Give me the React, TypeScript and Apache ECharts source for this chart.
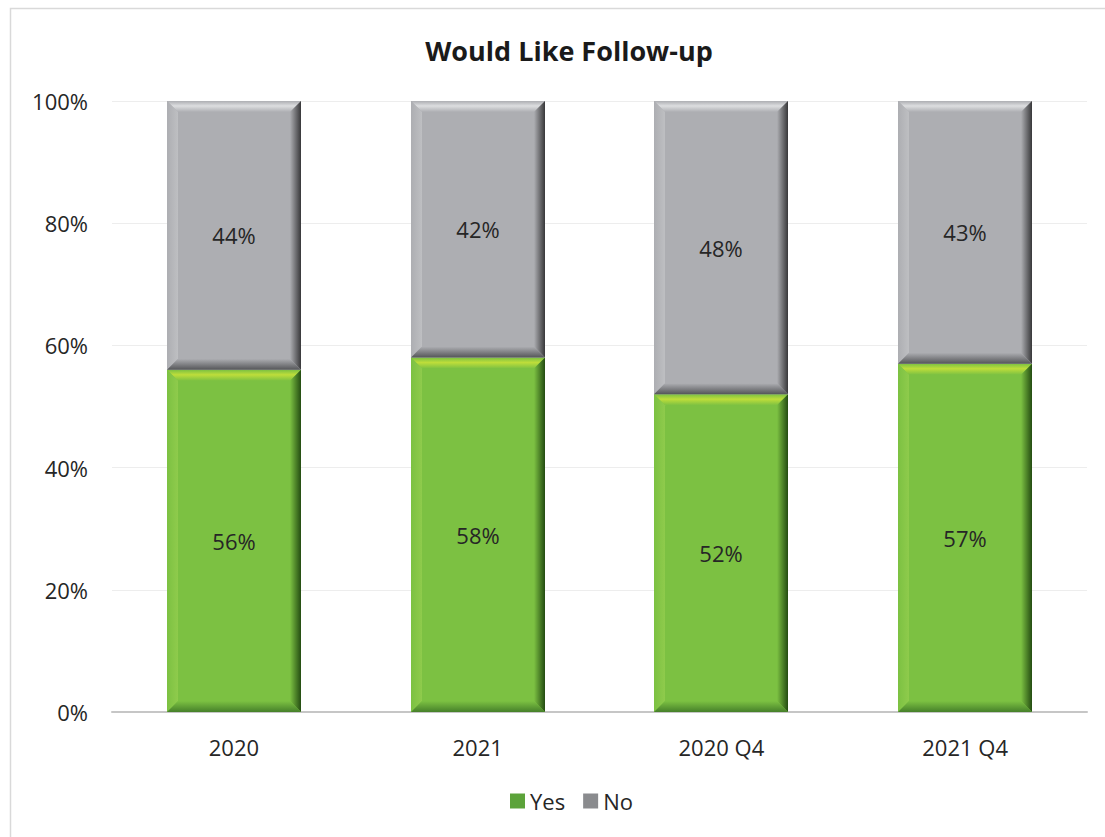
import React, { useEffect, useRef } from "react";
import * as echarts from "echarts";

const categories = ["2020", "2021", "2020 Q4", "2021 Q4"];
const yesValues = [56, 58, 52, 57];
const noValues = [44, 42, 48, 43];
const yTicks = [0, 20, 40, 60, 80, 100];

const FONT = "'Open Sans', 'Noto Sans', sans-serif";

type Pal = { face: string; topLight: string; left: string; right: string; bottom: string };
const greenPal: Pal = { face: "#7CC142", topLight: "#BEDD3A", left: "#8FCB4C", right: "#244C12", bottom: "#46802A" };
const grayPal: Pal = { face: "#ADAEB2", topLight: "#DDDEE0", left: "#BEBFC2", right: "#38383A", bottom: "#545558" };

function makeRender(pal: Pal, stackBase: number[]) {
  return (params: any, api: any) => {
    const idx = api.value(0);
    const val = api.value(1);
    const base = stackBase[idx] || 0;
    const top = api.coord([idx, base + val]);
    const bot = api.coord([idx, base]);
    const w = api.size([1, 0])[0] * 0.55;
    const x0 = Math.round(top[0] - w / 2);
    const x1 = Math.round(top[0] + w / 2);
    const y0 = top[1];
    const y1 = bot[1];
    const b = 11;
    const poly = (pts: number[][], fill: any) => ({ type: "polygon", shape: { points: pts }, style: { fill }, silent: true });
    return {
      type: "group",
      children: [
        { type: "rect", shape: { x: x0, y: y0, width: x1 - x0, height: y1 - y0 }, style: { fill: pal.face } },
        poly([[x0, y0], [x1, y0], [x1 - b, y0 + b], [x0 + b, y0 + b]],
          new echarts.graphic.LinearGradient(0, 0, 0, 1, [{ offset: 0, color: pal.face }, { offset: 0.45, color: pal.topLight }, { offset: 1, color: pal.face }])),
        poly([[x0, y0], [x0 + b, y0 + b], [x0 + b, y1 - b], [x0, y1]],
          new echarts.graphic.LinearGradient(0, 0, 1, 0, [{ offset: 0, color: pal.face }, { offset: 1, color: pal.left }])),
        poly([[x1, y0], [x1 - b, y0 + b], [x1 - b, y1 - b], [x1, y1]],
          new echarts.graphic.LinearGradient(0, 0, 1, 0, [{ offset: 0, color: pal.face }, { offset: 1, color: pal.right }])),
        poly([[x0, y1], [x1, y1], [x1 - b, y1 - b], [x0 + b, y1 - b]],
          new echarts.graphic.LinearGradient(0, 0, 0, 1, [{ offset: 0, color: pal.face }, { offset: 1, color: pal.bottom }])),
        {
          type: "text",
          style: {
            text: val + "%",
            x: (x0 + x1) / 2,
            y: (y0 + y1) / 2,
            align: "center",
            verticalAlign: "middle",
            fill: "#262626",
            font: `22px ${FONT}`,
          },
        },
      ],
    };
  };
}

export default function App() {
  const ref = useRef<HTMLDivElement>(null);
  useEffect(() => {
    document.body.style.margin = "0";
    const chart = echarts.init(ref.current!, null, { renderer: "svg" });
    const zeros = categories.map(() => 0);
    chart.setOption({
      animation: false,
      backgroundColor: "#ffffff",
      title: {
        text: "Would Like Follow-up",
        left: 564,
        top: 32,
        textAlign: "center",
        textStyle: { fontFamily: FONT, fontSize: 27, fontWeight: "bold", color: "#1a1a1a" },
      },
      graphic: [
        { type: "rect", shape: { x: 10.5, y: 8.5, width: 1200, height: 900 }, style: { fill: "none", stroke: "#D9D9D9", lineWidth: 1.5 }, silent: true },
      ],
      grid: { left: 112, right: 18, top: 101, bottom: 125 },
      legend: {
        bottom: 20,
        left: 505,
        orient: "horizontal",
        itemWidth: 15,
        itemHeight: 15,
        itemGap: 18,
        itemTextGap: 4,
        icon: "rect",
        textStyle: { fontFamily: FONT, fontSize: 22, color: "#262626" },
        data: [
          { name: "Yes", itemStyle: { color: "#5CA33A" } },
          { name: "No", itemStyle: { color: "#8A8B8E" } },
        ],
      },
      xAxis: {
        type: "category",
        data: categories,
        axisLine: { lineStyle: { color: "#C6C6C6", width: 2 } },
        axisTick: { show: false },
        axisLabel: { fontFamily: FONT, fontSize: 22, color: "#262626", margin: 24 },
      },
      yAxis: {
        type: "value",
        min: 0,
        max: 100,
        interval: 20,
        axisLine: { show: false },
        axisTick: { show: false },
        splitLine: { lineStyle: { color: "#EDEDED", width: 1 } },
        axisLabel: {
          fontFamily: FONT,
          fontSize: 22,
          color: "#262626",
          margin: 24,
          formatter: (v: number) => (yTicks.includes(v) ? v + "%" : ""),
        },
      },
      series: [
        {
          name: "Yes",
          type: "custom",
          itemStyle: { color: "#5CA33A" },
          renderItem: makeRender(greenPal, zeros),
          data: yesValues.map((v, i) => [i, v]),
          encode: { x: 0, y: 1 },
          z: 3,
        },
        {
          name: "No",
          type: "custom",
          itemStyle: { color: "#8A8B8E" },
          renderItem: makeRender(grayPal, yesValues),
          data: noValues.map((v, i) => [i, v]),
          encode: { x: 0, y: 1 },
          z: 3,
        },
      ],
    });
    return () => chart.dispose();
  }, []);
  return <div ref={ref} style={{ width: 1105, height: 837 }} />;
}
